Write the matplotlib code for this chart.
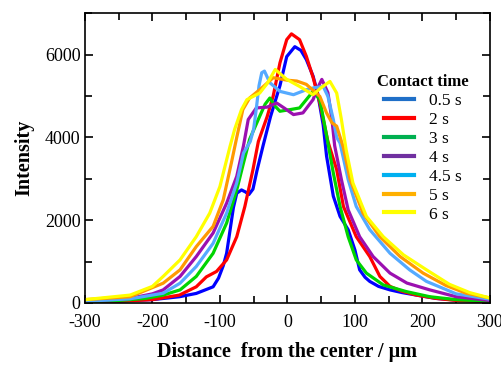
import numpy as np
import matplotlib.pyplot as plt
from matplotlib.lines import Line2D
from matplotlib.ticker import MultipleLocator

plt.rcParams['font.family'] = ['Liberation Serif', 'DejaVu Serif']
plt.rcParams['axes.unicode_minus'] = False

labels = ['0.5 s', '2 s', '3 s', '4 s', '4.5 s', '5 s', '6 s']
line_colors = ['#0000ff', '#ff0000', '#00d400', '#9b10b0', '#55aaff', '#ff9a00', '#ffff00']
legend_colors = ['#1f6fc8', '#ff0000', '#00b050', '#7030a0', '#00b0f0', '#ffb000', '#ffff00']

# distance (um) / intensity
x_05 = [-300, -250, -200, -160, -135, -110, -102, -95, -90, -85, -80, -75, -68, -62, -57, -51, -45, -36, -25, -11, -1, 11, 20, 28, 38, 45, 53, 58, 68, 78, 90, 100, 107, 115, 122, 135, 152, 170, 191, 220, 250, 300]
y_05 = [30, 50, 80, 150, 230, 390, 600, 900, 1200, 1750, 2300, 2650, 2730, 2680, 2620, 2750, 3200, 3800, 4500, 5250, 5950, 6190, 6100, 5880, 5480, 5050, 4300, 3550, 2580, 2090, 1770, 1280, 800, 620, 520, 400, 315, 250, 190, 110, 70, 40]

x_2 = [-300, -250, -200, -160, -135, -120, -105, -90, -75, -63, -51, -43, -30, -21, -11, -1, 6, 18, 28, 38, 48, 60, 73, 83, 102, 122, 137, 152, 170, 191, 220, 250, 300]
y_2 = [20, 40, 80, 190, 390, 630, 760, 1040, 1600, 2330, 3220, 3900, 4500, 5000, 5800, 6360, 6500, 6360, 5960, 5450, 4830, 3900, 3220, 2330, 1600, 1120, 640, 400, 280, 190, 110, 60, 30]

x_3 = [-300, -250, -210, -184, -159, -135, -110, -90, -75, -65, -56, -41, -33, -26, -18, -11, 4, 18, 28, 38, 48, 58, 68, 78, 90, 102, 117, 142, 176, 211, 250, 300]
y_3 = [30, 60, 110, 190, 315, 640, 1200, 1930, 2730, 3380, 3950, 4510, 4800, 4950, 4750, 4630, 4670, 4710, 4910, 5110, 4910, 4050, 3140, 2330, 1600, 1040, 720, 435, 275, 150, 80, 40]

x_4 = [-300, -233, -200, -184, -159, -135, -110, -90, -75, -65, -58, -46, -30, -16, -4, 9, 23, 38, 45, 51, 60, 66, 70, 80, 90, 107, 127, 152, 177, 211, 250, 300]
y_4 = [40, 110, 220, 315, 640, 1120, 1690, 2410, 3060, 3800, 4430, 4710, 4730, 4830, 4700, 4550, 4590, 4910, 5200, 5400, 5080, 4430, 3800, 2980, 2250, 1600, 1120, 720, 480, 315, 150, 60]

x_45 = [-300, -233, -184, -159, -135, -110, -90, -75, -65, -55, -50, -46, -42, -38, -34, -26, -11, 9, 28, 40, 53, 60, 68, 73, 78, 90, 102, 122, 152, 181, 206, 250, 300]
y_45 = [40, 100, 234, 477, 880, 1440, 2170, 2900, 3620, 3900, 4200, 4700, 5250, 5560, 5600, 5320, 5110, 5030, 5150, 5200, 5230, 4990, 4430, 4000, 3860, 2980, 2330, 1770, 1200, 800, 520, 220, 90]

x_5 = [-300, -233, -184, -159, -135, -110, -95, -83, -75, -66, -56, -41, -21, 0, 14, 28, 48, 58, 66, 73, 83, 93, 112, 137, 167, 201, 235, 265, 300]
y_5 = [80, 150, 477, 800, 1360, 1850, 2490, 3380, 4000, 4670, 4950, 5150, 5440, 5380, 5360, 5280, 4990, 4590, 4350, 4270, 3750, 2980, 2170, 1600, 1120, 720, 420, 234, 120]

x_6 = [-300, -233, -200, -184, -159, -135, -115, -100, -85, -78, -68, -60, -41, -30, -18, -1, 18, 38, 50, 63, 73, 80, 87, 97, 117, 142, 172, 206, 240, 270, 300]
y_6 = [80, 190, 400, 640, 1040, 1600, 2170, 2810, 3780, 4200, 4670, 4910, 5070, 5300, 5640, 5400, 5230, 5030, 5200, 5350, 5070, 4430, 3700, 2900, 2090, 1600, 1160, 800, 450, 250, 120]

xs = [x_05, x_2, x_3, x_4, x_45, x_5, x_6]
ys = [y_05, y_2, y_3, y_4, y_45, y_5, y_6]

fig = plt.figure(figsize=(5.02, 3.65), dpi=100)
ax = fig.add_axes([0.169, 0.170, 0.807, 0.794])

for x, y, c in zip(xs, ys, line_colors):
    ax.plot(x, y, color=c, linewidth=2.3, solid_joinstyle='round')

ax.set_xlim(-300, 300)
ax.set_ylim(0, 7000)
ax.xaxis.set_major_locator(MultipleLocator(100))
ax.xaxis.set_minor_locator(MultipleLocator(50))
ax.yaxis.set_major_locator(MultipleLocator(2000))
ax.yaxis.set_minor_locator(MultipleLocator(1000))
ax.tick_params(which='both', direction='in', top=True, right=True, width=1.2)
ax.tick_params(which='major', length=6, labelsize=13)
ax.tick_params(axis='x', which='major', pad=8)
ax.tick_params(axis='y', which='major', pad=3)
ax.tick_params(which='minor', length=5)
for s in ax.spines.values():
    s.set_linewidth(1.2)

ax.set_xlabel('Distance  from the center / μm', fontsize=14.5, fontweight='bold', labelpad=8)
ax.set_ylabel('Intensity', fontsize=14.5, fontweight='bold', labelpad=8)

handles = [Line2D([], [], color=c, linewidth=3) for c in legend_colors]
leg = ax.legend(handles, labels, title='Contact time', frameon=False, fontsize=12.5,
                loc='upper left', bbox_to_anchor=(0.722, 0.79), handlelength=1.7,
                handletextpad=0.9, labelspacing=0.16, borderaxespad=0, borderpad=0)
leg.get_title().set_fontweight('bold')
leg.get_title().set_fontsize(12)

fig.savefig('out.png', dpi=100)
